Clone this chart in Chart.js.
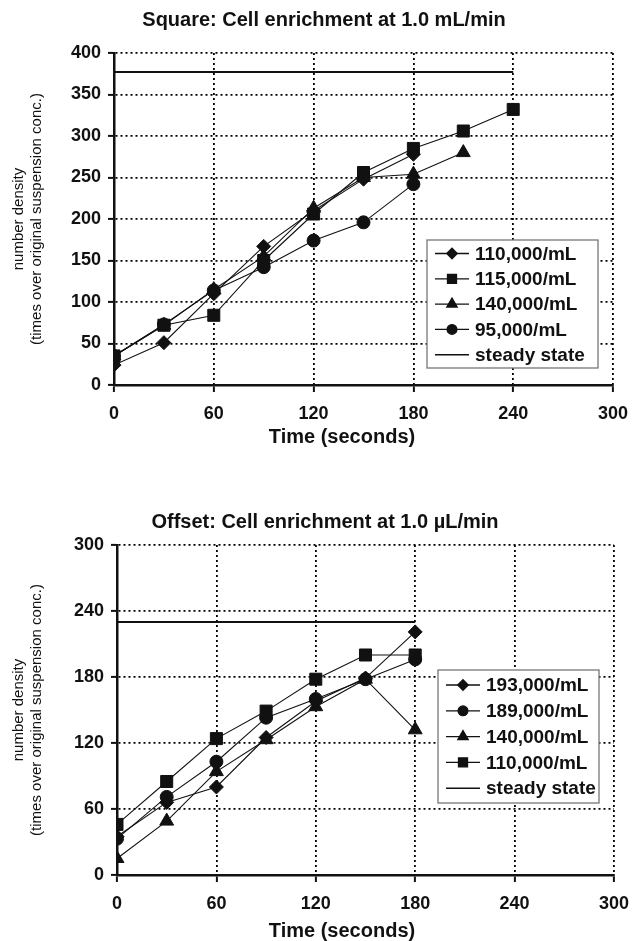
<!DOCTYPE html>
<html>
<head>
<meta charset="utf-8">
<script src="https://cdn.jsdelivr.net/npm/chart.js@4.4.1/dist/chart.umd.min.js"></script>
<style>
  body { margin: 0; background: #fff; }
  .panel { position: absolute; left: 0; width: 632px; }
  #panelTop { top: 0; height: 470px; }
  #panelBottom { top: 470px; height: 471px; }
</style>
</head>
<body>
<div class="panel" id="panelTop"><canvas id="chartTop" width="632" height="470"></canvas></div>
<div class="panel" id="panelBottom"><canvas id="chartBottom" width="632" height="471"></canvas></div>
<script>
// top panel - Square, 1.0 mL/min
const topTimes = [0, 30, 60, 90, 120, 150, 180, 210, 240];
const top110k = [24, 51, 110, 167, 210, 248, 278];
const top115k = [35, 72, 84, 150, 206, 256, 285, 306, 332];
const top140k = [35, 72, 115, 155, 213, 250, 254, 280];
const top95k = [35, 73, 114, 142, 174, 196, 242];
const topSteadyX = [0, 240];
const topSteadyY = [377, 377];
const topYTicks = [0, 50, 100, 150, 200, 250, 300, 350, 400];

// bottom panel - Offset, 1.0 uL/min
const botTimes = [0, 30, 60, 90, 120, 150, 180];
const bot193k = [35, 66, 80, 125, 158, 179, 221];
const bot189k = [33, 71, 103, 143, 160, 178, 196];
const bot140k = [15, 49, 94, 123, 153, 178, 132];
const bot110k = [46, 85, 124, 149, 178, 200, 200];
const botSteadyX = [0, 180];
const botSteadyY = [230, 230];
const botYTicks = [0, 60, 120, 180, 240, 300];

const xTicks = [0, 60, 120, 180, 240, 300];

Chart.defaults.font.family = "'Liberation Sans', Arial, sans-serif";
Chart.defaults.color = '#111';

const INK = '#111';

function toPoints(xs, ys) {
  return ys.map((y, i) => ({ x: xs[i], y: y }));
}

function series(label, xs, ys, style, radius) {
  return {
    label: label,
    data: toPoints(xs, ys),
    borderColor: INK,
    backgroundColor: INK,
    borderWidth: 1.1,
    pointStyle: style,
    pointRadius: radius,
    pointHoverRadius: radius,
    pointBorderWidth: 1
  };
}

function steady(xs, ys) {
  return {
    label: 'steady state',
    data: toPoints(xs, ys),
    borderColor: INK,
    backgroundColor: INK,
    borderWidth: 2,
    pointRadius: 0
  };
}

// chart title + x caption drawn at fixed spots (they are not centred on the plot)
const captions = {
  id: 'captions',
  afterDraw(chart, args, opts) {
    const ctx = chart.ctx;
    ctx.save();
    ctx.fillStyle = INK;
    ctx.textAlign = 'center';
    ctx.textBaseline = 'middle';
    ctx.font = "bold 20px 'Liberation Sans', Arial, sans-serif";
    ctx.fillText(opts.title, opts.titleX, opts.titleY);
    ctx.fillText(opts.xLabel, opts.xLabelX, opts.xLabelY);
    ctx.restore();
  }
};

// boxed legend sitting inside the plot
const boxLegend = {
  id: 'boxLegend',
  afterDraw(chart, args, opts) {
    const ctx = chart.ctx;
    ctx.save();
    ctx.fillStyle = '#fff';
    ctx.fillRect(opts.left, opts.top, opts.width, opts.height);
    ctx.strokeStyle = '#777';
    ctx.lineWidth = 1.3;
    ctx.strokeRect(opts.left, opts.top, opts.width, opts.height);
    ctx.font = "bold 19px 'Liberation Sans', Arial, sans-serif";
    ctx.textBaseline = 'middle';
    chart.data.datasets.forEach((ds, i) => {
      const y = opts.top + opts.firstRow + i * opts.rowH;
      const x0 = opts.left + 8;
      const x1 = opts.left + 42;
      ctx.strokeStyle = INK;
      ctx.fillStyle = INK;
      ctx.lineWidth = ds.pointRadius ? 1.3 : 1.6;
      ctx.beginPath();
      ctx.moveTo(x0, y);
      ctx.lineTo(x1, y);
      ctx.stroke();
      if (ds.pointRadius) {
        Chart.helpers.drawPoint(ctx, { pointStyle: ds.pointStyle, radius: ds.pointRadius * 0.75, borderWidth: 1 }, (x0 + x1) / 2, y);
      }
      ctx.fillStyle = INK;
      ctx.fillText(ds.label, x1 + 6, y + 1);
    });
    ctx.restore();
  }
};

function scales(yMax, yTicks, yWidth, xHeight) {
  const grid = { color: '#000', lineWidth: 1.8, tickLength: 6, tickColor: INK, tickWidth: 2 };
  return {
    x: {
      type: 'linear', min: 0, max: 300,
      afterBuildTicks: s => { s.ticks = xTicks.map(v => ({ value: v })); },
      afterFit: s => {
        s.height = xHeight;
        // let layout padding alone decide the plot's right edge
        s.paddingLeft = 0;
        s.paddingRight = 0;
      },
      ticks: { font: { size: 18, weight: 'bold' }, color: INK, padding: 11 },
      grid: Object.assign({}, grid, { tickLength: 7 }),
      border: { display: true, color: INK, width: 2.5, dash: [2, 3] }
    },
    y: {
      min: 0, max: yMax,
      afterBuildTicks: s => { s.ticks = yTicks.map(v => ({ value: v })); },
      afterFit: s => { s.width = yWidth; },
      ticks: { font: { size: 18, weight: 'bold' }, color: INK, padding: 7 },
      grid: grid,
      border: { display: true, color: INK, width: 2.5, dash: [2, 3] },
      title: {
        display: true,
        text: ['number density', '(times over original suspension conc.)'],
        font: { size: 15, lineHeight: 1.2 },
        color: INK,
        padding: { top: 10, bottom: 0 }
      }
    }
  };
}

const topData = [
  series('110,000/mL', topTimes, top110k, 'rectRot', 7),
  series('115,000/mL', topTimes, top115k, 'rect', 8.5),
  series('140,000/mL', topTimes, top140k, 'triangle', 8),
  series('95,000/mL', topTimes, top95k, 'circle', 6.5),
  steady(topSteadyX, topSteadyY)
];

new Chart(document.getElementById('chartTop'), {
  type: 'line',
  data: { datasets: topData },
  options: {
    responsive: false,
    animation: false,
    devicePixelRatio: 1,
    layout: { padding: { left: 0, right: 19, top: 53, bottom: 0 } },
    scales: scales(400, topYTicks, 114, 85),
    plugins: {
      legend: { display: false },
      tooltip: { enabled: false },
      captions: { title: 'Square: Cell enrichment at 1.0 mL/min', titleX: 324, titleY: 20, xLabel: 'Time (seconds)', xLabelX: 342, xLabelY: 437 },
      boxLegend: { left: 427, top: 240, width: 171, height: 128, firstRow: 13.5, rowH: 25.3 }
    }
  },
  plugins: [captions, boxLegend]
});

const botData = [
  series('193,000/mL', botTimes, bot193k, 'rectRot', 7),
  series('189,000/mL', botTimes, bot189k, 'circle', 6.5),
  series('140,000/mL', botTimes, bot140k, 'triangle', 8),
  series('110,000/mL', botTimes, bot110k, 'rect', 8.5),
  steady(botSteadyX, botSteadyY)
];

new Chart(document.getElementById('chartBottom'), {
  type: 'line',
  data: { datasets: botData },
  options: {
    responsive: false,
    animation: false,
    devicePixelRatio: 1,
    layout: { padding: { left: 0, right: 18, top: 75, bottom: 0 } },
    scales: scales(300, botYTicks, 117, 66),
    plugins: {
      legend: { display: false },
      tooltip: { enabled: false },
      captions: { title: 'Offset: Cell enrichment at 1.0 µL/min', titleX: 325, titleY: 52, xLabel: 'Time (seconds)', xLabelX: 342, xLabelY: 461 },
      boxLegend: { left: 438, top: 200, width: 161, height: 133, firstRow: 15, rowH: 25.8 }
    }
  },
  plugins: [captions, boxLegend]
});
</script>
</body>
</html>
